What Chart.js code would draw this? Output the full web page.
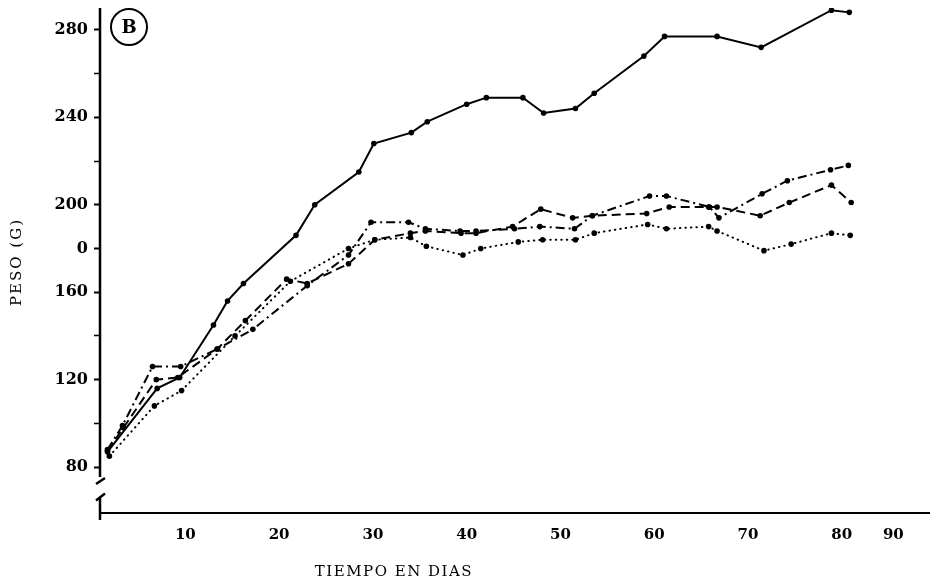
<!DOCTYPE html>
<html>
<head>
<meta charset="utf-8">
<script src="https://cdn.jsdelivr.net/npm/chart.js@4.4.0/dist/chart.umd.min.js"></script>
<style>
  html, body { margin: 0; padding: 0; background: #fff; }
  #wrap { width: 933px; height: 586px; }
</style>
</head>
<body>
<div id="wrap"><canvas id="chart" width="933" height="586"></canvas></div>
<script>
// days (x) and body weight in g (y)
var solidDays = [1.7, 7.0, 9.4, 13.0, 14.5, 16.2, 21.8, 23.8, 28.5, 30.1, 34.1, 35.8, 40.0, 42.1, 46.0, 48.2, 51.6, 53.6, 58.9, 61.1, 66.7, 71.4, 78.9, 80.8];
var solidWeights = [87, 116, 121, 145, 156, 164, 186, 200, 215, 228, 233, 238, 246, 249, 249, 242, 244, 251, 268, 277, 277, 272, 289, 288];

var dashDotDays = [1.7, 3.3, 6.5, 9.5, 13.4, 17.2, 23.0, 27.4, 29.8, 33.8, 35.6, 39.3, 41.0, 45.1, 47.8, 51.5, 53.4, 59.5, 61.3, 65.9, 66.9, 71.5, 74.2, 78.8, 80.7];
var dashDotWeights = [88, 99, 126, 126, 134, 143, 163, 177, 192, 192, 189, 188, 188, 189, 190, 189, 195, 204, 204, 199, 194, 205, 211, 216, 218];

var dashedDays = [1.7, 3.4, 6.9, 9.2, 13.4, 16.4, 20.8, 23.0, 27.4, 30.2, 34.0, 35.6, 39.4, 41.0, 44.9, 47.9, 51.3, 53.4, 59.2, 61.6, 65.8, 66.7, 71.3, 74.4, 78.9, 81.0];
var dashedWeights = [87.5, 98, 120, 121, 134, 147, 166, 164, 173, 184, 187, 188, 187, 187, 190, 198, 194, 195, 196, 199, 199, 199, 195, 201, 209, 201];

var dottedDays = [1.9, 6.7, 9.6, 15.3, 21.2, 27.4, 30.2, 34.0, 35.7, 39.6, 41.5, 45.5, 48.1, 51.6, 53.6, 59.3, 61.3, 65.8, 66.7, 71.7, 74.6, 78.9, 80.9];
var dottedWeights = [85, 108, 115, 140, 165, 180, 184, 185, 181, 177, 180, 183, 184, 184, 187, 191, 189, 190, 188, 179, 182, 187, 186];

// tick marks as printed (the "180" label is printed as "0", the "90" sits short of its place)
var yTickValues = [80, 100, 120, 140, 160, 180, 200, 220, 240, 260, 280];
var yTickLabels = ['80', '', '120', '', '160', '0', '200', '', '240', '', '280'];
var xTickValues = [10, 20, 30, 40, 50, 60, 70, 80, 85.5];
var xTickLabels = ['10', '20', '30', '40', '50', '60', '70', '80', '90'];

function points(days, weights) {
    return days.map(function(d, i) { return { x: d, y: weights[i] }; });
}

function series(days, weights, dash, cap) {
    return {
        data: points(days, weights),
        borderColor: '#000',
        backgroundColor: '#000',
        borderWidth: 2,
        borderDash: dash,
        borderCapStyle: cap || 'butt',
        pointRadius: 2.8,
        pointBorderWidth: 0,
        pointBackgroundColor: '#000',
        tension: 0
    };
}

// axis break, panel letter and axis titles
var decor = {
    id: 'decor',
    afterDraw: function(chart) {
        var ctx = chart.ctx;
        var area = chart.chartArea;
        var y = chart.scales.y;
        var ax = area.left;
        var breakTop = y.getPixelForValue(75.5);
        var breakBot = y.getPixelForValue(66.5);

        ctx.save();
        ctx.strokeStyle = '#000';
        ctx.lineWidth = 2.5;
        ctx.beginPath();
        ctx.moveTo(ax, area.top);
        ctx.lineTo(ax, breakTop);
        ctx.moveTo(ax, breakBot);
        ctx.lineTo(ax, area.bottom + 7);
        ctx.moveTo(ax - 4, breakTop + 7);
        ctx.lineTo(ax + 5, breakTop + 1);
        ctx.moveTo(ax - 4, breakBot + 4);
        ctx.lineTo(ax + 5, breakBot - 3);
        ctx.stroke();

        // circled B
        ctx.lineWidth = 2;
        ctx.beginPath();
        ctx.arc(ax + 29, area.top + 19, 18, 0, Math.PI * 2);
        ctx.stroke();
        ctx.fillStyle = '#000';
        ctx.font = 'bold 18px "DejaVu Serif"';
        ctx.textAlign = 'center';
        ctx.textBaseline = 'middle';
        ctx.fillText('B', ax + 29, area.top + 20);

        // axis titles
        ctx.font = '15px "DejaVu Serif"';
        ctx.letterSpacing = '1.5px';
        ctx.fillText('TIEMPO EN DIAS', 394, 572);
        ctx.translate(17, 262);
        ctx.rotate(-Math.PI / 2);
        ctx.letterSpacing = '2px';
        ctx.fillText('PESO (G)', 0, 0);
        ctx.restore();
    }
};

var ctx = document.getElementById('chart').getContext('2d');
var chart = new Chart(ctx, {
    type: 'line',
    data: {
        datasets: [
            series(solidDays, solidWeights, []),
            series(dashDotDays, dashDotWeights, [9, 4, 2, 4]),
            series(dashedDays, dashedWeights, [9, 5]),
            series(dottedDays, dottedWeights, [0.5, 5], 'round')
        ]
    },
    options: {
        responsive: false,
        animation: false,
        devicePixelRatio: 1,
        layout: { padding: { top: 8, left: 0, right: 0, bottom: 0 } },
        plugins: {
            legend: { display: false },
            tooltip: { enabled: false }
        },
        scales: {
            x: {
                type: 'linear',
                min: 0.9,
                max: 89.3,
                afterFit: function(s) {
                    s.height = 73;
                    s.paddingLeft = 0;
                    s.paddingRight = 0;
                },
                afterBuildTicks: function(s) {
                    s.ticks = xTickValues.map(function(v) { return { value: v }; });
                },
                grid: { display: false, drawTicks: false },
                border: { display: true, color: '#000', width: 2 },
                ticks: {
                    autoSkip: false,
                    maxRotation: 0,
                    padding: 13,
                    color: '#000',
                    font: { family: '"DejaVu Serif"', size: 15, weight: 'bold' },
                    callback: function(v, i) { return xTickLabels[i]; }
                }
            },
            y: {
                type: 'linear',
                min: 59,
                max: 290,
                afterFit: function(s) {
                    s.width = 100;
                    s.paddingTop = 0;
                    s.paddingBottom = 0;
                },
                afterBuildTicks: function(s) {
                    s.ticks = yTickValues.map(function(v) { return { value: v }; });
                },
                grid: {
                    drawOnChartArea: false,
                    drawTicks: true,
                    tickLength: 6,
                    tickColor: '#000',
                    tickWidth: function(c) { return yTickLabels[c.index] ? 2 : 1.5; }
                },
                border: { display: false },
                ticks: {
                    autoSkip: false,
                    padding: 6,
                    color: '#000',
                    font: { family: '"DejaVu Serif"', size: 16, weight: 'bold' },
                    callback: function(v, i) { return yTickLabels[i]; }
                }
            }
        }
    },
    plugins: [decor]
});
</script>
</body>
</html>
